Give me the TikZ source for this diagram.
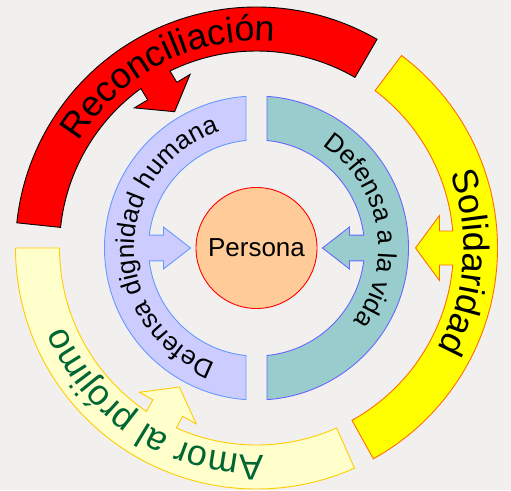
\documentclass[tikz,border=0pt]{standalone}
\usepackage{fontspec}
\setmainfont{Liberation Sans}
\usetikzlibrary{decorations.text}
\definecolor{bgc}{RGB}{242,240,238}
\definecolor{redf}{RGB}{255,0,0}
\definecolor{yelf}{RGB}{255,255,0}
\definecolor{yelb}{RGB}{255,110,0}
\definecolor{lyf}{RGB}{255,255,204}
\definecolor{lyb}{RGB}{255,204,0}
\definecolor{lavf}{RGB}{204,204,255}
\definecolor{lavb}{RGB}{102,153,255}
\definecolor{tealf}{RGB}{153,204,204}
\definecolor{tealb}{RGB}{102,102,255}
\definecolor{perf}{RGB}{255,204,153}
\definecolor{amorc}{RGB}{0,102,51}
\tikzset{
  outershape/.style={insert path={(53:241pt) arc[start angle=53,end angle=-61,radius=241pt]
     -- (-61:197pt) arc[start angle=-61,end angle=-4.95,radius=197pt]
     -- (183pt,-17pt) -- (183pt,-32.5pt) -- (159pt,0pt) -- (183pt,32.5pt) -- (183pt,17pt)
     -- (4.95:197pt) arc[start angle=4.95,end angle=53,radius=197pt] -- cycle}},
  innershape/.style={insert path={(86.04:152pt) arc[start angle=86.04,end angle=-86.04,radius=152pt]
     -- (-84.42:108pt) arc[start angle=-84.42,end angle=-6.83,radius=108pt]
     -- (93pt,-12.85pt) -- (93pt,-21pt) -- (66pt,0pt) -- (93pt,21pt) -- (93pt,12.85pt)
     -- (6.83:108pt) arc[start angle=6.83,end angle=84.42,radius=108pt] -- cycle}},
  segline/.style={line width=0.9pt, line join=miter},
  bigtext/.style={decorate, decoration={text along path, text align=center, text={|\fontsize{36}{40}\selectfont|#1}}},
  smalltext/.style={decorate, decoration={text along path, text align=center, text={|\fontsize{26}{30}\selectfont|#1}}},
  greentext/.style={decorate, decoration={text along path, text align=center, text color=amorc, text={|\fontsize{36}{40}\selectfont|#1}}},
}
\begin{document}
\begin{tikzpicture}[x=1pt,y=1pt]
\fill[bgc] (0,0) rectangle (511,490);
\useasboundingbox (0,0) rectangle (511,490);
\coordinate (C) at (256.5,242);
% outer ring
\begin{scope}[shift={(C)}, rotate=121]
  \path[segline, fill=redf, draw=black, outershape];
  \path[bigtext={Reconciliación}] (60:207pt) arc[start angle=60,end angle=-68,radius=207pt];
\end{scope}
\begin{scope}[shift={(C)}, rotate=0]
  \path[segline, fill=yelf, draw=yelb, outershape];
  \path[bigtext={Solidaridad}] (60:207pt) arc[start angle=60,end angle=-68,radius=207pt];
\end{scope}
\begin{scope}[shift={(C)}, rotate=241]
  \path[segline, fill=lyf, draw=lyb, outershape];
  \path[greentext={Amor al prójimo}] (60:207pt) arc[start angle=60,end angle=-68,radius=207pt];
\end{scope}
% inner ring
\begin{scope}[shift={(C)}, rotate=180]
  \path[segline, fill=lavf, draw=lavb, innershape];
  \path[smalltext={Defensa dignidad humana}] (80:122pt) arc[start angle=80,end angle=-82,radius=122pt];
\end{scope}
\begin{scope}[shift={(C)}, rotate=0]
  \path[segline, fill=tealf, draw=tealb, innershape];
  \path[smalltext={Defensa a la vida}] (85:122pt) arc[start angle=85,end angle=-65,radius=122pt];
\end{scope}
\node[circle, draw=red, fill=perf, line width=0.9pt, minimum size=121pt, inner sep=0pt,
      font=\fontsize{26}{30}\selectfont] (persona) at (C) {Persona};
\end{tikzpicture}
\end{document}
